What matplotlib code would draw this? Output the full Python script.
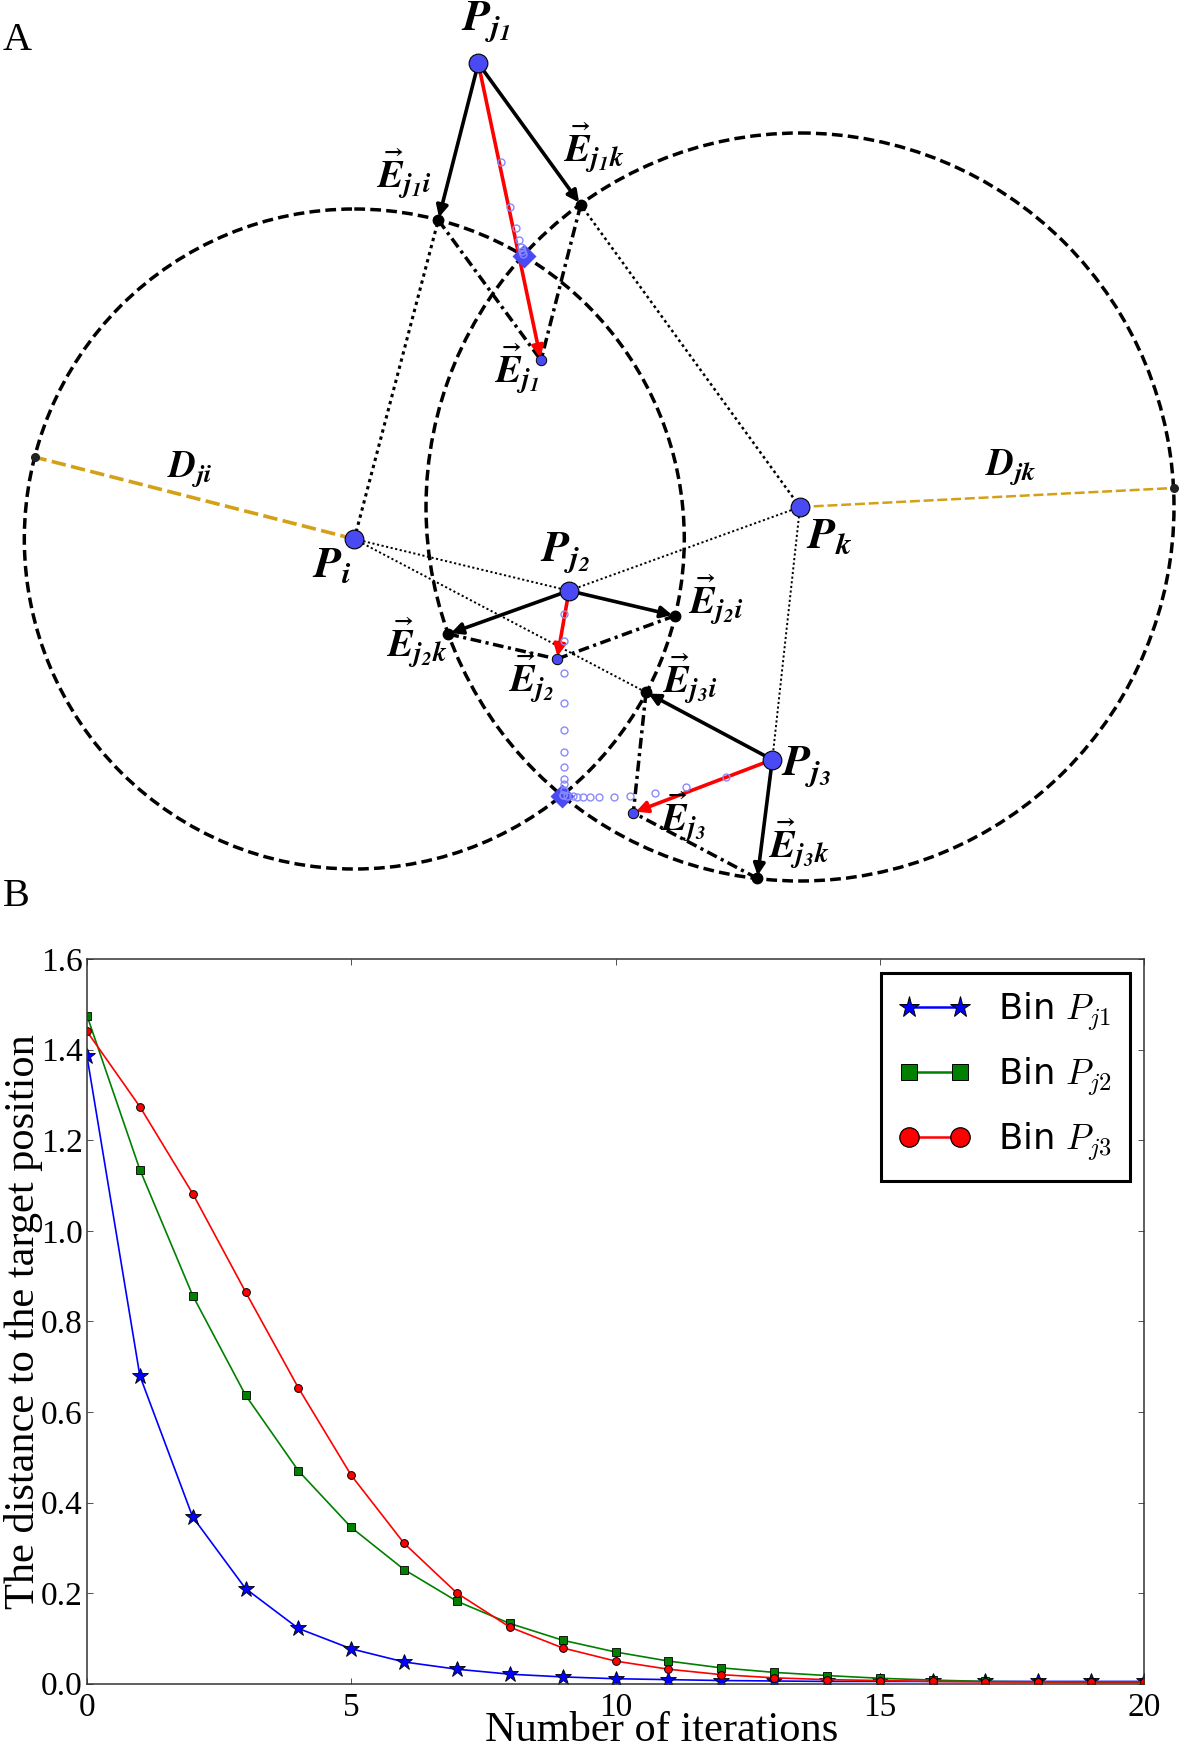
import numpy as np
import matplotlib
matplotlib.use("Agg")
import matplotlib.pyplot as plt
from matplotlib.lines import Line2D
from matplotlib.patches import Circle, FancyArrowPatch

plt.rcParams['font.family'] = ['Liberation Serif', 'DejaVu Serif']
plt.rcParams['mathtext.fontset'] = 'cm'

# Panel A, everything in picture pixels
P_i = (354.3, 539)
P_k = (800, 507)
R_i = 330
R_k = 374
P_j1 = (478.3, 63.3)
P_j2 = (569, 590.7)
P_j3 = (772.3, 759.7)
E_j1 = (541, 360.3)
E_j2 = (557, 659)
E_j3 = (633.3, 812.7)
E_j1i = (438.3, 220)
E_j1k = (580.7, 204.7)
E_j2i = (675, 615.7)
E_j2k = (448.3, 634)
E_j3i = (646, 692.3)
E_j3k = (757.3, 878.3)
D_i_end = (34.5, 457)
D_k_end = (1174, 488)
targets = [(523.7, 256), (561.7, 795.7)]

trace_1 = [(501, 162.3), (509.7, 207), (516, 228.3), (519, 240), (521.3, 247.3), (522.3, 250.7), (522.7, 254)]
trace_2 = [(564.3, 614), (564.3, 641), (564.3, 672.7), (564.3, 702.7), (564.3, 730.3), (564.3, 752.3),
           (564.3, 767.3), (564.3, 778.7), (564.3, 784), (564, 790), (563, 795)]
trace_3 = [(725.7, 777.3), (686.3, 787.3), (654.7, 793), (630.3, 795.7), (613.7, 796.7), (599.3, 796.7),
           (590, 796.7), (583.3, 796.7), (577.3, 796.7), (572.7, 796.3), (567.3, 795.7), (563.3, 795)]

labels_big = [(r'P_{j_1}', 461, 30), (r'P_{j_2}', 540, 560.7), (r'P_{j_3}', 780.7, 775),
              (r'P_i', 312, 577), (r'P_k', 805.6, 548)]
labels_gap = [(r'D_{ji}', 167, 477), (r'D_{jk}', 985, 474.6)]
labels_vec = [('j_1i', 376, 188), ('j_1k', 562.7, 161.7), ('j_1', 494, 383),
              ('j_2i', 688.3, 614), ('j_2k', 386, 656.7), ('j_2', 508, 691.7),
              ('j_3i', 661.7, 692.7), ('j_3', 660, 830.7), ('j_3k', 768.3, 858.3)]

# Panel B
iterations = np.arange(21)
bin_p1 = [1.385, 0.68, 0.368, 0.21, 0.122, 0.077, 0.048, 0.032, 0.021, 0.015, 0.011,
          0.009, 0.007, 0.006, 0.005, 0.005, 0.005, 0.005, 0.005, 0.005, 0.005]
bin_p2 = [1.475, 1.135, 0.857, 0.637, 0.47, 0.345, 0.252, 0.182, 0.133, 0.096, 0.07,
          0.05, 0.035, 0.025, 0.018, 0.012, 0.008, 0.005, 0.004, 0.003, 0.003]
bin_p3 = [1.44, 1.274, 1.082, 0.865, 0.653, 0.46, 0.31, 0.2, 0.125, 0.079, 0.05,
          0.032, 0.02, 0.013, 0.009, 0.007, 0.005, 0.004, 0.004, 0.004, 0.004]
x_ticks = [0, 5, 10, 15, 20]
y_ticks = [0.0, 0.2, 0.4, 0.6, 0.8, 1.0, 1.2, 1.4, 1.6]

BLUE = '#4a4af5'
GOLD = '#d4a017'
W, H = 1181, 1747

fig = plt.figure(figsize=(W / 100, H / 100), dpi=100)

diag = fig.add_axes([0, 0, 1, 1])
diag.set_xlim(0, W)
diag.set_ylim(H, 0)
diag.axis('off')


def seg(a, b, **kw):
    diag.plot([a[0], b[0]], [a[1], b[1]], **kw)


def arrow(a, b, color, lw=2.6):
    diag.add_patch(FancyArrowPatch(a, b, arrowstyle='-|>', mutation_scale=17, color=color, lw=lw,
                                   shrinkA=0, shrinkB=2, zorder=5))


# circles
for c, r in [(P_i, R_i), (P_k, R_k)]:
    diag.add_patch(Circle(c, r, fill=False, ec='black', lw=2.5, ls=(0, (3.1, 1.5)), zorder=3))

# dotted lines to the centres
dotted = [(P_i, E_j1i, 2.2), (P_k, E_j1k, 1.8), (P_i, P_j2, 1.4), (P_k, P_j2, 1.4), (P_i, E_j3i, 1.4), (P_k, P_j3, 1.4)]
for a, b, w in dotted:
    seg(a, b, color='black', lw=w, ls=(0, (1.1, 1.3)), zorder=2)

# dash-dot lines
for a, b in [(E_j1i, E_j1), (E_j1k, E_j1), (E_j2i, E_j2), (E_j2k, E_j2), (E_j3i, E_j3), (E_j3k, E_j3)]:
    seg(a, b, color='black', lw=2.5, ls=(0, (3.1, 1.3, 0.9, 1.3)), zorder=3)

seg(P_i, D_i_end, color=GOLD, lw=2.6, ls=(0, (4, 1.5)), zorder=2)
seg(P_k, D_k_end, color=GOLD, lw=1.8, ls=(0, (4, 1.5)), zorder=2)

# arrows
for p, e in [(P_j1, E_j1i), (P_j1, E_j1k), (P_j2, E_j2i), (P_j2, E_j2k), (P_j3, E_j3i), (P_j3, E_j3k)]:
    arrow(p, e, 'black')
for p, e in [(P_j1, E_j1), (P_j2, E_j2), (P_j3, E_j3)]:
    arrow(p, e, 'red')

# points
black_dots = [E_j1i, E_j1k, E_j2i, E_j2k, E_j3i, E_j3k]
diag.plot([p[0] for p in black_dots], [p[1] for p in black_dots], 'o', color='black', ms=7.5, zorder=6)
gap_ends = [D_i_end, D_k_end]
diag.plot([p[0] for p in gap_ends], [p[1] for p in gap_ends], 'o', color='#222222', ms=5.5, zorder=6)
big = [P_i, P_k, P_j1, P_j2, P_j3]
diag.plot([p[0] for p in big], [p[1] for p in big], 'o', color=BLUE, mec='black', mew=0.8, ms=13.5, zorder=7)
small = [E_j1, E_j2, E_j3]
diag.plot([p[0] for p in small], [p[1] for p in small], 'o', color=BLUE, mec='black', mew=0.7, ms=7.5, zorder=7)
diag.plot([p[0] for p in targets], [p[1] for p in targets], 'D', color=BLUE, mec='none', ms=12, zorder=6)
for tr in [trace_1, trace_2, trace_3]:
    diag.plot([p[0] for p in tr], [p[1] for p in tr], 'o', mfc='none', mec='#8a8aff', mew=1, ms=5, zorder=8)

# labels, STIX because the cm set has no bold italic
for s, x, y in labels_big:
    diag.text(x, y, r'$\mathbfit{' + s + '}$', fontsize=32, ha='left', va='baseline', zorder=9,
              math_fontfamily='stix')
for s, x, y in labels_gap:
    diag.text(x, y, r'$\mathbfit{' + s + '}$', fontsize=27, ha='left', va='baseline', zorder=9,
              math_fontfamily='stix')
for s, x, y in labels_vec:
    diag.text(x, y, r'$\vec{\mathbfit{E}}_{\mathbfit{' + s + '}}$', fontsize=28,
              ha='left', va='baseline', zorder=9, math_fontfamily='stix')

diag.text(3, 50, 'A', fontsize=29, ha='left', va='baseline')
diag.text(3, 906, 'B', fontsize=29, ha='left', va='baseline')

# Panel B
ax = fig.add_axes([87 / W, (H - 1683.7) / H, 1057 / W, 724.7 / H])
ax.patch.set_alpha(0)
ax.plot(iterations, bin_p1, '-*', color='blue', lw=1.2, ms=12, mec='black', mew=0.6)
ax.plot(iterations, bin_p2, '-s', color='green', lw=1.2, ms=5.4, mec='black', mew=0.6)
ax.plot(iterations, bin_p3, '-o', color='red', lw=1.2, ms=5.6, mec='black', mew=0.7)
ax.set_xlim(0, 20)
ax.set_ylim(0, 1.6)
ax.set_xticks(x_ticks)
ax.set_yticks(y_ticks)
ax.set_yticklabels(['%.1f' % v for v in y_ticks])
ax.tick_params(direction='in', top=True, right=True, length=4, width=0.6, labelsize=24, pad=3, color='#333333')
ax.tick_params(axis='x', pad=6.5)
for sp in ax.spines.values():
    sp.set_linewidth(1.1)
    sp.set_color('#333333')
ax.set_xlabel('Number of iterations', fontsize=30.5, va='baseline')
ax.xaxis.set_label_coords(0.544, -0.079)
ax.set_ylabel('The distance to the target position', fontsize=30.5, va='center')
ax.yaxis.set_label_coords(-0.060, 0.5)

handles = [Line2D([], [], color='blue', marker='*', ms=15.5, mec='black', mew=0.7, lw=1.8),
           Line2D([], [], color='green', marker='s', ms=11, mec='black', mew=0.7, lw=1.8),
           Line2D([], [], color='red', marker='o', ms=14, mec='black', mew=0.9, lw=1.8)]
leg = ax.legend(handles, [r'Bin $P_{j1}$', r'Bin $P_{j2}$', r'Bin $P_{j3}$'],
                loc='upper left', bbox_to_anchor=(880.7, 972.7), bbox_transform=diag.transData,
                borderaxespad=0, fancybox=False, framealpha=1, edgecolor='black',
                prop={'family': 'DejaVu Sans', 'size': 25.5}, numpoints=2,
                handlelength=2.04, handletextpad=0.77, labelspacing=0.65, borderpad=0.5)
leg.get_frame().set_linewidth(2.2)

fig.savefig('out.png', dpi=100)
